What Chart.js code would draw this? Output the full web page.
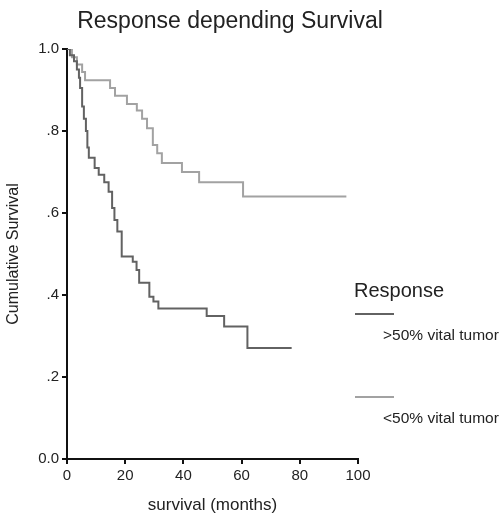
<!DOCTYPE html>
<html lang="en">
<head>
<meta charset="UTF-8">
<title>Response depending Survival</title>
<style>
    body { margin: 0; background: #fff; }
    #wrap { position: relative; width: 502px; height: 516px; }
</style>
</head>
<body>
<div id="wrap">
    <canvas id="kmChart" width="502" height="516"></canvas>
</div>
<script src="https://cdn.jsdelivr.net/npm/chart.js"></script>
<script>
    // Kaplan-Meier steps (months, cumulative survival)
    const darkTimes = [0, 1, 2.4, 3.4, 4.1, 4.5, 5.2, 5.8, 6.5, 7.0, 7.5, 9.5, 10.9, 12.8, 14.3, 15.5, 16.3, 17.3, 18.8, 22.6, 23.9, 24.8, 28.3, 29.7, 31.4, 48, 54, 62, 77.2];
    const darkSurv = [1.0, 0.985, 0.97, 0.95, 0.93, 0.905, 0.86, 0.83, 0.80, 0.76, 0.735, 0.71, 0.693, 0.675, 0.652, 0.612, 0.583, 0.555, 0.494, 0.481, 0.461, 0.43, 0.396, 0.384, 0.367, 0.349, 0.323, 0.271, 0.271];

    const lightTimes = [0, 1.7, 3.4, 5.2, 6.2, 14.8, 16.5, 20.6, 24, 25.8, 27.5, 29.5, 31, 32.6, 39.5, 45.4, 60.5, 96];
    const lightSurv = [1.0, 0.98, 0.962, 0.944, 0.924, 0.905, 0.886, 0.866, 0.85, 0.83, 0.807, 0.766, 0.746, 0.722, 0.70, 0.675, 0.64, 0.64];

    const seriesNames = ['>50% vital tumor', '<50% vital tumor'];
    const seriesColors = ['#626262', '#a2a2a2'];
    const yTickLabels = ['0.0', '.2', '.4', '.6', '.8', '1.0'];
    const titleText = 'Response depending Survival';
    const legendTitle = 'Response';

    const FONT = "'Liberation Sans', Arial, sans-serif";

    function toPoints(times, surv) {
        return times.map((t, i) => ({ x: t, y: surv[i] }));
    }

    // title and the side legend
    const extras = {
        id: 'extras',
        afterDraw(chart) {
            const ctx = chart.ctx;
            ctx.save();
            ctx.fillStyle = '#222';
            ctx.textBaseline = 'middle';
            ctx.textAlign = 'center';
            ctx.font = '23px ' + FONT;
            ctx.fillText(titleText, 230, 22);

            ctx.textAlign = 'left';
            ctx.font = '20px ' + FONT;
            ctx.fillText(legendTitle, 354, 291);

            const lineY = [314, 397];
            seriesNames.forEach((name, i) => {
                ctx.strokeStyle = seriesColors[i];
                ctx.lineWidth = 2;
                ctx.beginPath();
                ctx.moveTo(355, lineY[i]);
                ctx.lineTo(394, lineY[i]);
                ctx.stroke();
                ctx.font = '15.5px ' + FONT;
                ctx.fillText(name, 383, lineY[i] + 22);
            });
            ctx.restore();
        }
    };

    const axisGrid = { drawOnChartArea: false, color: '#111', lineWidth: 2, tickLength: 5 };
    const axisBorder = { display: true, color: '#111', width: 2 };

    new Chart(document.getElementById('kmChart'), {
        type: 'line',
        data: {
            datasets: [{
                label: seriesNames[0],
                data: toPoints(darkTimes, darkSurv),
                borderColor: seriesColors[0],
                borderWidth: 2,
                stepped: 'before',
                pointRadius: 0,
                fill: false
            }, {
                label: seriesNames[1],
                data: toPoints(lightTimes, lightSurv),
                borderColor: seriesColors[1],
                borderWidth: 2,
                stepped: 'before',
                pointRadius: 0,
                fill: false
            }]
        },
        options: {
            responsive: false,
            animation: false,
            layout: { padding: { top: 49, right: 144, left: 0, bottom: 0 } },
            plugins: {
                legend: { display: false },
                title: { display: false },
                tooltip: { enabled: false }
            },
            scales: {
                x: {
                    type: 'linear',
                    min: 0,
                    max: 100,
                    grid: axisGrid,
                    border: axisBorder,
                    ticks: { stepSize: 20, color: '#222', font: { size: 15, family: FONT }, padding: 3 },
                    title: { display: true, text: 'survival (months)', color: '#222', font: { size: 17, family: FONT }, padding: { top: 0, bottom: 0 } },
                    afterFit(scale) { scale.height = 57; }
                },
                y: {
                    min: 0,
                    max: 1,
                    grid: axisGrid,
                    border: axisBorder,
                    ticks: {
                        stepSize: 0.2,
                        color: '#222',
                        font: { size: 15, family: FONT },
                        padding: 3,
                        callback: (v, i) => yTickLabels[i]
                    },
                    title: { display: true, text: 'Cumulative Survival', color: '#222', font: { size: 16, family: FONT } },
                    afterFit(scale) { scale.width = 67; }
                }
            }
        },
        plugins: [extras]
    });
</script>
</body>
</html>
